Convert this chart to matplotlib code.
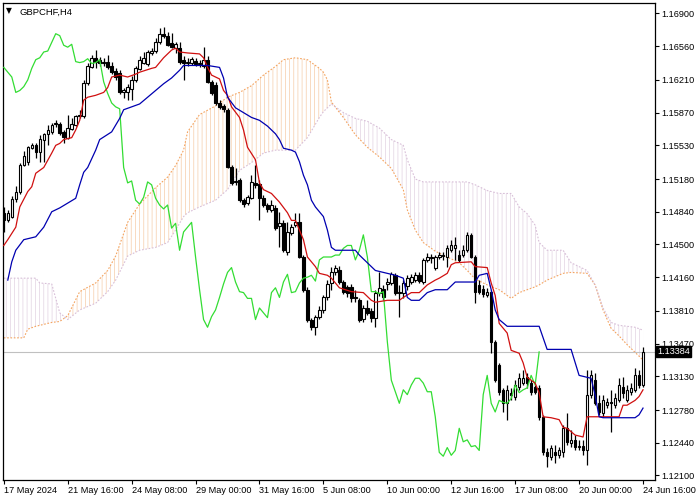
import matplotlib
matplotlib.use("Agg")
import matplotlib.pyplot as plt
import matplotlib.transforms as mtransforms
import numpy as np

symbol = "GBPCHF,H4"

opens = [1.1483, 1.1475, 1.1479, 1.1497, 1.1505, 1.1533, 1.1536, 1.1550, 1.1553, 1.1546,
         1.1559, 1.1565, 1.1567, 1.1575, 1.1575, 1.1567, 1.1561, 1.1570, 1.1574, 1.1583,
         1.1583, 1.1618, 1.1634, 1.1644, 1.1642, 1.1639, 1.1640, 1.1635, 1.1630, 1.1628,
         1.1608, 1.1608, 1.1612, 1.1621, 1.1632, 1.1639, 1.1638, 1.1649, 1.1651, 1.1660,
         1.1669, 1.1667, 1.1659, 1.1654, 1.1654, 1.1642, 1.1639, 1.1639, 1.1641, 1.1638,
         1.1635, 1.1642, 1.1619, 1.1616, 1.1597, 1.1594, 1.1590, 1.1530, 1.1515, 1.1517,
         1.1496, 1.1493, 1.1498, 1.1514, 1.1513, 1.1498, 1.1491, 1.1486, 1.1488, 1.1469,
         1.1472, 1.1442, 1.1462, 1.1470, 1.1473, 1.1437, 1.1403, 1.1372, 1.1364, 1.1375,
         1.1382, 1.1395, 1.1410, 1.1421, 1.1423, 1.1411, 1.1406, 1.1406, 1.1395, 1.1392,
         1.1373, 1.1384, 1.1381, 1.1374, 1.1400, 1.1404, 1.1409, 1.1410, 1.1418, 1.1400,
         1.1400, 1.1407, 1.1411, 1.1413, 1.1418, 1.1411, 1.1434, 1.1436, 1.1426, 1.1437,
         1.1438, 1.1437, 1.1444, 1.1446, 1.1439, 1.1439, 1.1444, 1.1460, 1.1437, 1.1408,
         1.1404, 1.1397, 1.1401, 1.1349, 1.1325, 1.1299, 1.1285, 1.1296, 1.1292, 1.1302,
         1.1306, 1.1312, 1.1306, 1.1302, 1.1301, 1.1271, 1.1234, 1.1229, 1.1234, 1.1231,
         1.1234, 1.1259, 1.1244, 1.1247, 1.1240, 1.1241, 1.1236, 1.1294, 1.1309, 1.1285,
         1.1275, 1.1283, 1.1286, 1.1283, 1.1288, 1.1302, 1.1288, 1.1297, 1.1299, 1.1314,
         1.1304]

closes = [1.1475, 1.1483, 1.1497, 1.1505, 1.1533, 1.1542, 1.1551, 1.1553, 1.1546, 1.1560,
          1.1565, 1.1569, 1.1574, 1.1576, 1.1566, 1.1562, 1.1571, 1.1575, 1.1583, 1.1585,
          1.1618, 1.1635, 1.1644, 1.1640, 1.1639, 1.1640, 1.1634, 1.1629, 1.1624, 1.1608,
          1.1610, 1.1614, 1.1621, 1.1633, 1.1642, 1.1644, 1.1650, 1.1651, 1.1660, 1.1669,
          1.1667, 1.1657, 1.1655, 1.1658, 1.1640, 1.1639, 1.1640, 1.1643, 1.1638, 1.1639,
          1.1642, 1.1619, 1.1607, 1.1597, 1.1593, 1.1591, 1.1530, 1.1514, 1.1516, 1.1496,
          1.1492, 1.1499, 1.1515, 1.1512, 1.1498, 1.1491, 1.1487, 1.1491, 1.1467, 1.1472,
          1.1444, 1.1463, 1.1468, 1.1473, 1.1437, 1.1403, 1.1372, 1.1364, 1.1375, 1.1382,
          1.1395, 1.1409, 1.1421, 1.1426, 1.1411, 1.1401, 1.1400, 1.1394, 1.1394, 1.1372,
          1.1384, 1.1379, 1.1374, 1.1400, 1.1405, 1.1395, 1.1411, 1.1419, 1.1400, 1.1401,
          1.1410, 1.1415, 1.1416, 1.1418, 1.1412, 1.1434, 1.1437, 1.1437, 1.1437, 1.1439,
          1.1439, 1.1446, 1.1449, 1.1449, 1.1434, 1.1444, 1.1460, 1.1437, 1.1401, 1.1401,
          1.1399, 1.1401, 1.1349, 1.1309, 1.1297, 1.1285, 1.1299, 1.1294, 1.1304, 1.1311,
          1.1311, 1.1306, 1.1297, 1.1297, 1.1271, 1.1234, 1.1230, 1.1239, 1.1231, 1.1236,
          1.1259, 1.1245, 1.1247, 1.1240, 1.1241, 1.1236, 1.1294, 1.1314, 1.1285, 1.1276,
          1.1288, 1.1286, 1.1285, 1.1290, 1.1304, 1.1296, 1.1299, 1.1301, 1.1314, 1.1304,
          1.13384]

highs = [1.1489, 1.1486, 1.1500, 1.1511, 1.1535, 1.1547, 1.1552, 1.1555, 1.1555, 1.1564,
         1.1566, 1.1574, 1.1576, 1.1579, 1.1577, 1.1569, 1.1585, 1.1581, 1.1585, 1.1590,
         1.1621, 1.1639, 1.1647, 1.1652, 1.1645, 1.1644, 1.1647, 1.1640, 1.1633, 1.1631,
         1.1613, 1.1617, 1.1625, 1.1635, 1.1646, 1.1650, 1.1652, 1.1654, 1.1665, 1.1675,
         1.1676, 1.1671, 1.1670, 1.1660, 1.1660, 1.1646, 1.1644, 1.1645, 1.1644, 1.1642,
         1.1655, 1.1646, 1.1621, 1.1619, 1.1600, 1.1596, 1.1592, 1.1533, 1.1529, 1.1519,
         1.1498, 1.1501, 1.1522, 1.1533, 1.1517, 1.1501, 1.1493, 1.1496, 1.1491, 1.1484,
         1.1475, 1.1473, 1.1471, 1.1483, 1.1483, 1.1439, 1.1406, 1.1374, 1.1377, 1.1386,
         1.1397, 1.1413, 1.1427, 1.1429, 1.1428, 1.1413, 1.1408, 1.1409, 1.1403, 1.1394,
         1.1387, 1.1392, 1.1384, 1.1403, 1.1421, 1.1408, 1.1415, 1.1421, 1.1420, 1.1408,
         1.1413, 1.1418, 1.1419, 1.1421, 1.1421, 1.1436, 1.1441, 1.1440, 1.1439, 1.1442,
         1.1442, 1.1449, 1.1455, 1.1458, 1.1444, 1.1449, 1.1463, 1.1462, 1.1439, 1.1413,
         1.1408, 1.1405, 1.1403, 1.1351, 1.1327, 1.1301, 1.1304, 1.1301, 1.1309, 1.1316,
         1.1320, 1.1316, 1.1309, 1.1304, 1.1304, 1.1273, 1.1239, 1.1242, 1.1242, 1.1240,
         1.1262, 1.1275, 1.1257, 1.1252, 1.1247, 1.1247, 1.1320, 1.1320, 1.1316, 1.1294,
         1.1294, 1.1290, 1.1299, 1.1296, 1.1311, 1.1312, 1.1304, 1.1306, 1.1322, 1.1320,
         1.1343]

lows = [1.1463, 1.1473, 1.1477, 1.1494, 1.1502, 1.1532, 1.1533, 1.1549, 1.1540, 1.1536,
        1.1536, 1.1553, 1.1565, 1.1572, 1.1564, 1.1555, 1.1560, 1.1569, 1.1573, 1.1581,
        1.1581, 1.1616, 1.1633, 1.1633, 1.1635, 1.1635, 1.1632, 1.1627, 1.1621, 1.1606,
        1.1602, 1.1600, 1.1600, 1.1619, 1.1631, 1.1638, 1.1635, 1.1647, 1.1649, 1.1658,
        1.1665, 1.1656, 1.1654, 1.1649, 1.1638, 1.1621, 1.1635, 1.1636, 1.1635, 1.1634,
        1.1633, 1.1618, 1.1605, 1.1595, 1.1591, 1.1588, 1.1529, 1.1512, 1.1512, 1.1494,
        1.1489, 1.1491, 1.1497, 1.1509, 1.1475, 1.1489, 1.1484, 1.1484, 1.1465, 1.1447,
        1.1442, 1.1439, 1.1460, 1.1468, 1.1436, 1.1401, 1.1369, 1.1361, 1.1356, 1.1373,
        1.1379, 1.1392, 1.1403, 1.1418, 1.1409, 1.1399, 1.1395, 1.1390, 1.1390, 1.1369,
        1.1369, 1.1377, 1.1369, 1.1364, 1.1396, 1.1392, 1.1403, 1.1408, 1.1397, 1.1375,
        1.1394, 1.1403, 1.1409, 1.1411, 1.1410, 1.1409, 1.1432, 1.1431, 1.1423, 1.1435,
        1.1434, 1.1427, 1.1442, 1.1434, 1.1432, 1.1437, 1.1442, 1.1436, 1.1389, 1.1399,
        1.1395, 1.1395, 1.1337, 1.1307, 1.1294, 1.1276, 1.1268, 1.1288, 1.1288, 1.1299,
        1.1304, 1.1301, 1.1294, 1.1295, 1.1268, 1.1231, 1.1219, 1.1226, 1.1223, 1.1228,
        1.1229, 1.1242, 1.1240, 1.1236, 1.1236, 1.1231, 1.1221, 1.1290, 1.1283, 1.1273,
        1.1271, 1.1280, 1.1255, 1.1280, 1.1286, 1.1290, 1.1286, 1.1294, 1.1297, 1.1301,
        1.1302]

# Tenkan-sen (red) vertices: bar index, price
tenkan_bars = [0, 1, 3, 4, 6, 7, 8, 10, 12, 13, 14, 15, 17, 18, 19, 20, 21, 23, 25, 26,
               27, 29, 31, 33, 34, 37, 38, 40, 42, 43, 44, 46, 49, 50, 51, 52, 53, 54, 55, 56,
               57, 59, 60, 61, 63, 64, 65, 67, 69, 71, 72, 73, 75, 76, 78, 79, 81, 82, 83, 84,
               87, 90, 92, 93, 96, 99, 100, 102, 104, 106, 108, 109, 111, 112, 113, 117, 118, 121, 122, 123,
               124, 126, 127, 129, 130, 131, 133, 134, 135, 137, 139, 140, 141, 143, 145, 146, 154, 155, 156, 158,
               159, 160]
tenkan_vals = [1.1449, 1.1455, 1.1468, 1.1489, 1.1505, 1.1510, 1.1524, 1.1530, 1.1545, 1.1553,
               1.1555, 1.1559, 1.1561, 1.1569, 1.1579, 1.1600, 1.1603, 1.1605, 1.1608, 1.1613,
               1.1624, 1.1626, 1.1624, 1.1627, 1.1629, 1.1633, 1.1634, 1.1644, 1.1652, 1.1654,
               1.1650, 1.1649, 1.1648, 1.1644, 1.1634, 1.1626, 1.1624, 1.1622, 1.1610, 1.1605,
               1.1593, 1.1582, 1.1569, 1.1551, 1.1538, 1.1514, 1.1507, 1.1503, 1.1494, 1.1483,
               1.1475, 1.1475, 1.1455, 1.1437, 1.1427, 1.1420, 1.1418, 1.1415, 1.1410, 1.1405,
               1.1401, 1.1400, 1.1392, 1.1390, 1.1392, 1.1392, 1.1395, 1.1400, 1.1400, 1.1408,
               1.1413, 1.1415, 1.1420, 1.1429, 1.1431, 1.1432, 1.1427, 1.1426, 1.1410, 1.1397,
               1.1368, 1.1358, 1.1340, 1.1337, 1.1327, 1.1312, 1.1306, 1.1296, 1.1271, 1.1270,
               1.1268, 1.1260, 1.1259, 1.1252, 1.1250, 1.1271, 1.1271, 1.1283, 1.1283, 1.1288,
               1.1292, 1.1299]

# Kijun-sen (blue) vertices
kijun_bars = [1, 2, 3, 5, 8, 10, 12, 14, 16, 18, 19, 20, 21, 23, 24, 27, 29, 30, 34, 36,
              38, 40, 42, 44, 45, 51, 54, 55, 56, 58, 60, 62, 64, 66, 68, 69, 70, 72, 73, 74,
              75, 76, 77, 78, 79, 80, 81, 82, 83, 88, 89, 91, 92, 93, 98, 100, 101, 102, 104, 106,
              108, 111, 113, 118, 119, 121, 122, 123, 124, 126, 134, 135, 136, 142, 144, 147, 148, 149, 150, 158,
              159, 160]
kijun_vals = [1.1413, 1.1432, 1.1444, 1.1455, 1.1458, 1.1468, 1.1484, 1.1488, 1.1493, 1.1498,
              1.1512, 1.1525, 1.1530, 1.1548, 1.1559, 1.1567, 1.1581, 1.1590, 1.1596, 1.1603,
              1.1610, 1.1617, 1.1623, 1.1631, 1.1636, 1.1636, 1.1634, 1.1623, 1.1603, 1.1592,
              1.1587, 1.1582, 1.1579, 1.1573, 1.1565, 1.1559, 1.1550, 1.1548, 1.1546, 1.1536,
              1.1522, 1.1512, 1.1496, 1.1489, 1.1484, 1.1479, 1.1465, 1.1447, 1.1444, 1.1444,
              1.1439, 1.1431, 1.1427, 1.1423, 1.1418, 1.1415, 1.1395, 1.1392, 1.1392, 1.1400,
              1.1403, 1.1403, 1.1411, 1.1411, 1.1418, 1.1420, 1.1403, 1.1382, 1.1372, 1.1365,
              1.1365, 1.1353, 1.1341, 1.1341, 1.1314, 1.1311, 1.1294, 1.1271, 1.1270, 1.1270,
              1.1273, 1.1280]

# Senkou spans (cloud) vertices
cloud_bars = [0, 5, 6, 8, 9, 12, 14, 16, 19, 23, 26, 28,
              31, 34, 38, 41, 43, 45, 46, 49, 53, 56,
              59, 62, 65, 68, 70, 73, 76, 79, 80, 81, 82, 85, 88, 91, 94, 97, 100, 101, 103, 105,
              108, 111, 114, 116, 118, 121, 124, 127, 129, 131, 133, 134, 136, 140, 142, 146, 148, 150, 152, 154,
              156, 158, 160]
span_a = [1.1353, 1.1353, 1.1362, 1.1365, 1.1366, 1.1369, 1.1370, 1.1376, 1.1401, 1.1410, 1.1423, 1.1438,
          1.1473, 1.1492, 1.1509, 1.1520, 1.1532, 1.1548, 1.1567, 1.1585, 1.1594, 1.1603,
          1.1608, 1.1615, 1.1626, 1.1635, 1.1642, 1.1644, 1.1642, 1.1633, 1.1629, 1.1621,
          1.1598, 1.1582, 1.1564, 1.1551, 1.1541, 1.1529, 1.1507, 1.1486, 1.1465, 1.1452,
          1.1443, 1.1437, 1.1431, 1.1423, 1.1414, 1.1408, 1.1403, 1.1394, 1.1400, 1.1403,
          1.1406, 1.1408, 1.1413, 1.1420, 1.1421, 1.1420, 1.1408, 1.1382, 1.1363, 1.1355,
          1.1346, 1.1338, 1.1330]
span_b = [1.1415, 1.1415, 1.1415, 1.1415, 1.1410, 1.1409, 1.1379, 1.1372, 1.1382, 1.1389, 1.1401, 1.1413,
          1.1438, 1.1444, 1.1447, 1.1452, 1.1465, 1.1479, 1.1483, 1.1489, 1.1496, 1.1507,
          1.1527, 1.1535, 1.1545, 1.1548, 1.1548, 1.1548, 1.1561, 1.1582, 1.1588, 1.1592,
          1.1596, 1.1587, 1.1581, 1.1578, 1.1571, 1.1559, 1.1553, 1.1538, 1.1518, 1.1515,
          1.1515, 1.1515, 1.1515, 1.1515, 1.1512, 1.1506, 1.1503, 1.1503, 1.1489, 1.1482,
          1.1470, 1.1452, 1.1444, 1.1444, 1.1431, 1.1423, 1.1408, 1.1384, 1.1369, 1.1366,
          1.1365, 1.1364, 1.1361]

chikou_shift = 26

x_tick_bars = [0, 16, 32, 48, 64, 80, 96, 112, 128, 144, 160]
x_tick_labels = ["17 May 2024", "21 May 16:00", "24 May 08:00", "29 May 00:00",
                 "31 May 16:00", "5 Jun 08:00", "10 Jun 00:00", "12 Jun 16:00",
                 "17 Jun 08:00", "20 Jun 00:00", "24 Jun 16:00"]
y_ticks = [1.16900, 1.16560, 1.16210, 1.15870, 1.15530, 1.15180, 1.14840, 1.14500,
           1.14160, 1.13810, 1.13470, 1.13130, 1.12780, 1.12440, 1.12100]
last_price = 1.13384

# ---------------------------------------------------------------
plt.rcParams["font.family"] = ["Liberation Sans", "DejaVu Sans"]
plt.rcParams["hatch.linewidth"] = 0.55

fig = plt.figure(figsize=(7, 5), dpi=100)
ax = fig.add_axes([3 / 700, 20 / 500, 652 / 700, 477 / 500])

o = np.array(opens)
c = np.array(closes)
h = np.array(highs)
l = np.array(lows)
idx = np.arange(len(c))

sa = np.array(span_a)
sb = np.array(span_b)
cb = np.array(cloud_bars)

sandy = "#f4a460"
thistle = "#d8bfd8"
ax.fill_between(cb, sa, sb, where=sa >= sb, interpolate=True, facecolor="none",
                edgecolor="#f6d0b0", hatch="||||", linewidth=0, zorder=1)
ax.fill_between(cb, sa, sb, where=sa < sb, interpolate=True, facecolor="none",
                edgecolor="#e4d6e4", hatch="||||", linewidth=0, zorder=1)
ax.plot(cb, sa, color=sandy, lw=0.8, ls=(0, (1.5, 1.5)), zorder=2)
ax.plot(cb, sb, color=thistle, lw=0.8, ls=(0, (1.5, 1.5)), zorder=2)

# price line
ax.axhline(last_price, color="#c0c0c0", lw=0.8, zorder=2)

# candles
up = c >= o
ax.vlines(idx, l, h, color="black", lw=0.9, zorder=4)
body_bottom = np.minimum(o, c)
body_height = np.abs(c - o)
ax.bar(idx[up], body_height[up], bottom=body_bottom[up], width=0.62,
       color="white", edgecolor="black", linewidth=0.8, zorder=5)
ax.bar(idx[~up], body_height[~up], bottom=body_bottom[~up], width=0.62,
       color="black", edgecolor="black", linewidth=0.8, zorder=5)

# Ichimoku lines
ax.plot(idx[chikou_shift:] - chikou_shift, c[chikou_shift:], color="#33dd33", lw=0.9, zorder=6)
ax.plot(tenkan_bars, tenkan_vals, color="#d01010", lw=0.9, zorder=6)
ax.plot(kijun_bars, kijun_vals, color="#0000b0", lw=0.9, zorder=6)

ax.set_xlim(-0.2, 163.0)
ax.set_ylim(1.12053, 1.17009)

ax.yaxis.tick_right()
ax.set_yticks(y_ticks)
ax.set_yticklabels([f"{v:.5f}" for v in y_ticks])
ax.set_xticks(x_tick_bars)
ax.set_xticklabels(x_tick_labels)
for lab in ax.get_xticklabels():
    lab.set_horizontalalignment("left")
offset = mtransforms.ScaledTranslation(1 / 100, 0, fig.dpi_scale_trans)
for lab in ax.get_xticklabels():
    lab.set_transform(lab.get_transform() + offset)
ax.tick_params(axis="both", direction="out", length=3, width=0.8, labelsize=6.6,
               colors="black", pad=1.5)
for sp in ax.spines.values():
    sp.set_color("black")
    sp.set_linewidth(0.9)

# last price label
ax.text(1.0 + 2 / 652, last_price, f"{last_price:.5f}", transform=ax.get_yaxis_transform(),
        ha="left", va="center", color="white", fontsize=6.6,
        bbox=dict(boxstyle="square,pad=0.12", fc="black", ec="black"), zorder=10, clip_on=False)

# title
ax.text(3 / 652, 1 - 8 / 477, "\u25BC", transform=ax.transAxes, fontsize=5.5,
        ha="left", va="center", family=["DejaVu Sans"])
ax.text(17 / 652, 1 - 9 / 477, symbol, transform=ax.transAxes, fontsize=6.8,
        ha="left", va="center")

fig.savefig("out.png", dpi=100)
